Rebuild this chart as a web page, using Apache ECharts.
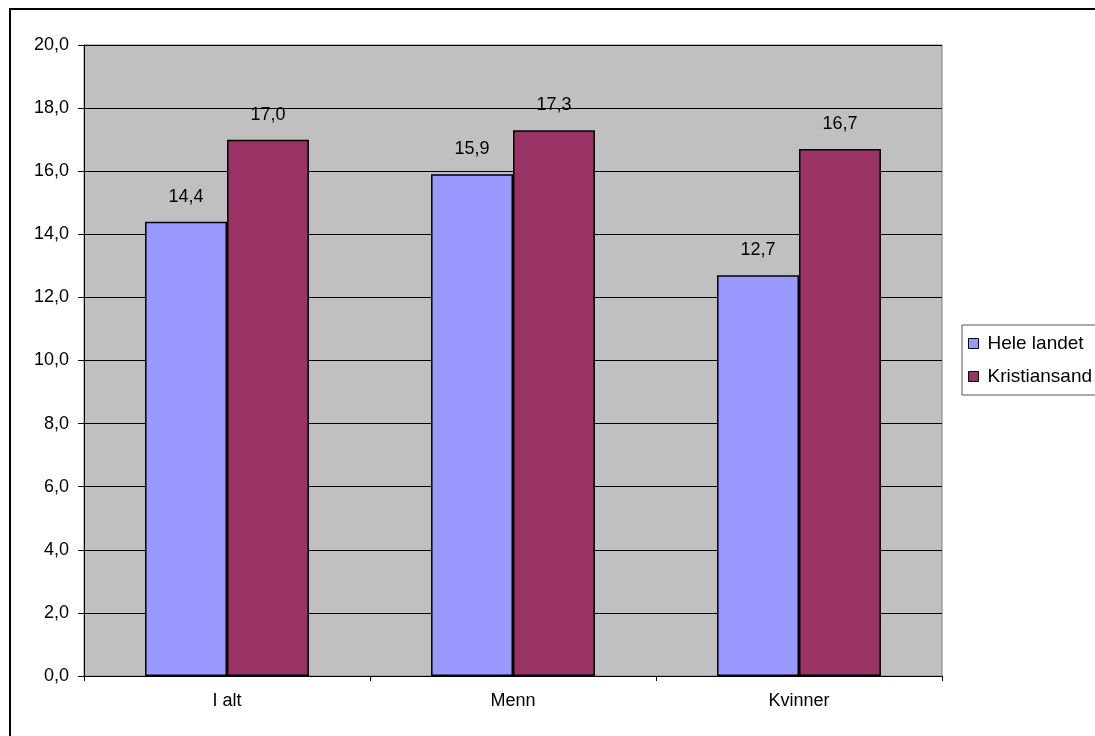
<!DOCTYPE html>
<html>
<head>
<meta charset="utf-8">
<script src="https://cdn.jsdelivr.net/npm/echarts@6/dist/echarts.min.js"></script>
<style>
html,body{margin:0;padding:0;background:#fff;}
#chart{width:1095px;height:736px;}
</style>
</head>
<body>
<div id="chart"></div>
<script>
const categories = ['I alt', 'Menn', 'Kvinner'];
const seriesNames = ['Hele landet', 'Kristiansand'];
const heleLandet = [14.4, 15.9, 12.7];
const kristiansand = [17.0, 17.3, 16.7];
const yTicks = { min: 0, max: 20, interval: 2 };

const fmt = v => v.toFixed(1).replace('.', ',');
const font = '"Liberation Sans", Arial, sans-serif';
const fs = 18;

const chart = echarts.init(document.getElementById('chart'), null, { renderer: 'canvas' });
const labelCfg = {
  show: true, position: 'top', distance: 16,
  color: '#000', fontFamily: font, fontSize: fs,
  formatter: p => fmt(p.value)
};
chart.setOption({
  animation: false,
  backgroundColor: '#fff',
  graphic: [{
    type: 'rect', z: -1, silent: true,
    shape: { x: 10, y: 9, width: 1100, height: 740 },
    style: { fill: 'none', stroke: '#000', lineWidth: 2 }
  }],
  grid: {
    left: 84, top: 45, right: 153, bottom: 60,
    show: true, backgroundColor: '#C0C0C0', borderColor: '#808080', borderWidth: 1
  },
  legend: {
    orient: 'vertical', left: 962, top: 325,
    data: seriesNames,
    icon: 'rect', itemWidth: 10, itemHeight: 10, itemGap: 14,
    padding: [9, 20, 9, 6],
    borderColor: '#555', borderWidth: 1, backgroundColor: '#fff',
    textStyle: { fontFamily: font, fontSize: 19, color: '#000', padding: [0, 0, 0, 4] },
    itemStyle: { borderColor: '#000', borderWidth: 1 }
  },
  xAxis: {
    type: 'category', data: categories,
    axisLine: { lineStyle: { color: '#000', width: 1 } },
    axisTick: { show: true, length: 5, lineStyle: { color: '#000' }, alignWithLabel: false },
    axisLabel: { color: '#000', fontFamily: font, fontSize: fs, margin: 16 }
  },
  yAxis: {
    type: 'value', min: yTicks.min, max: yTicks.max, interval: yTicks.interval,
    axisLine: { show: true, lineStyle: { color: '#000', width: 1 } },
    axisTick: { show: true, length: 6, lineStyle: { color: '#000' } },
    axisLabel: { color: '#000', fontFamily: font, fontSize: fs, margin: 15, formatter: v => fmt(v) },
    splitLine: { show: true, lineStyle: { color: '#000', width: 1 } }
  },
  series: [
    {
      name: seriesNames[0], type: 'bar', data: heleLandet,
      barGap: '0%', barCategoryGap: '42.7%',
      itemStyle: { color: '#9999FF', borderColor: '#000', borderWidth: 1.5 },
      label: labelCfg
    },
    {
      name: seriesNames[1], type: 'bar', data: kristiansand,
      barGap: '0%', barCategoryGap: '42.7%',
      itemStyle: { color: '#993366', borderColor: '#000', borderWidth: 1.5 },
      label: labelCfg
    }
  ]
});
</script>
</body>
</html>
